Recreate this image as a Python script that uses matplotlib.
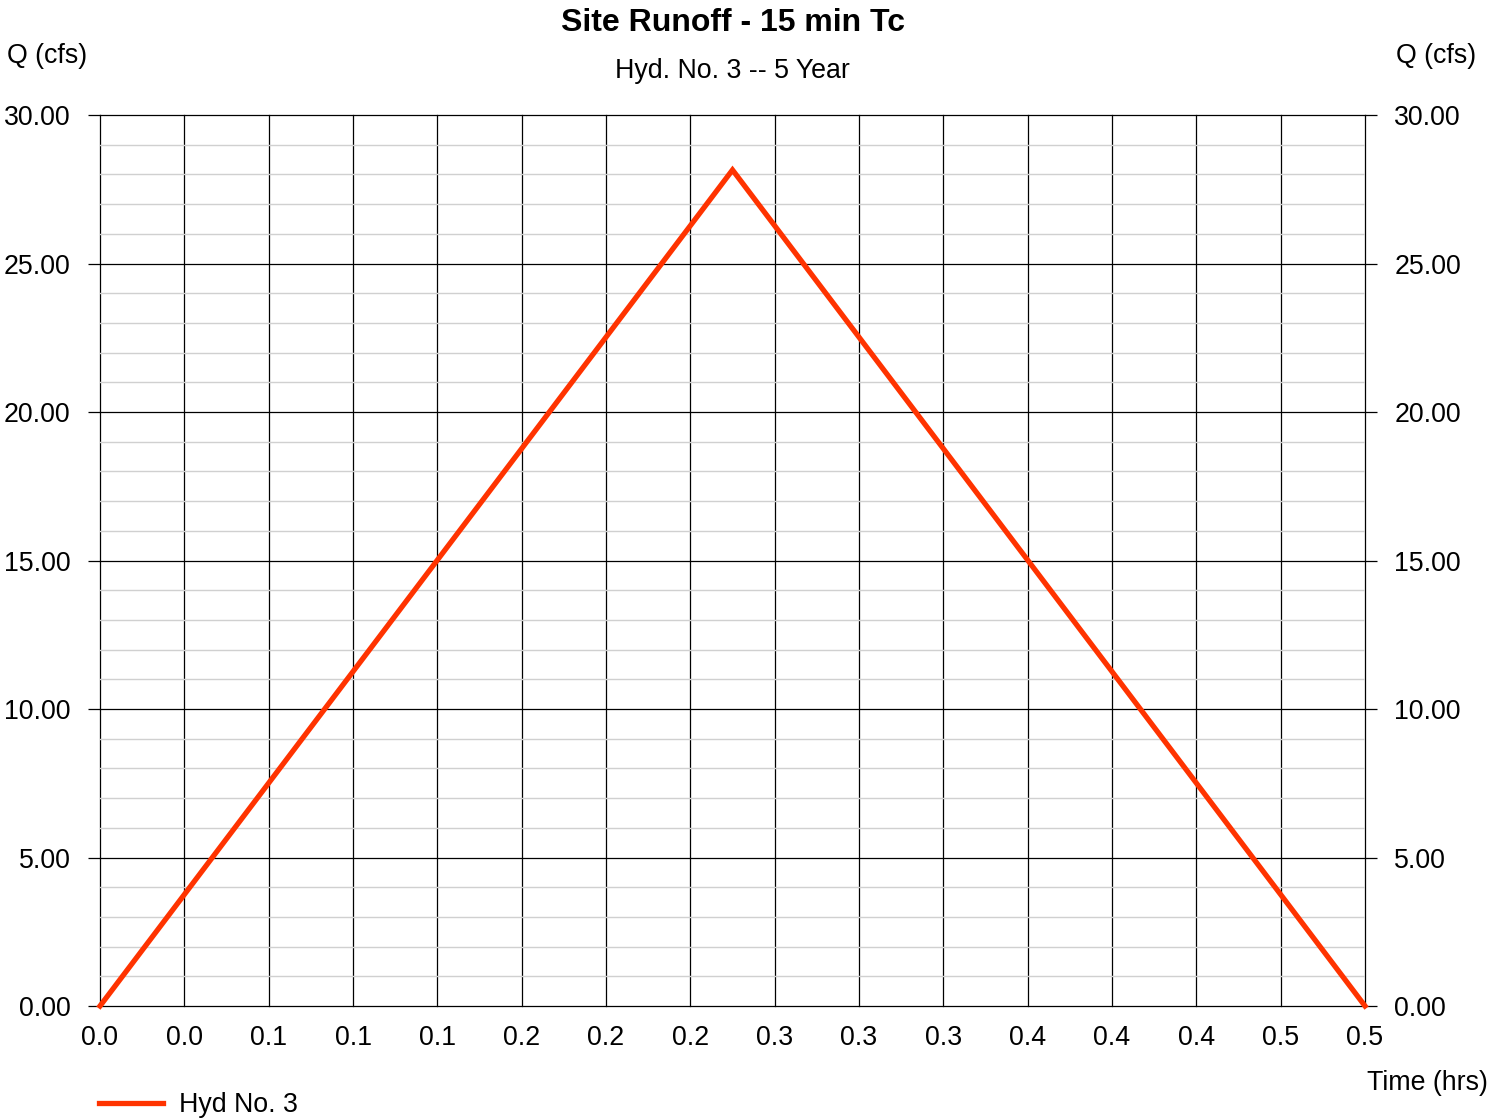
import numpy as np
import matplotlib.pyplot as plt
from matplotlib.ticker import FixedLocator, MultipleLocator

plt.rcParams['font.family'] = ['Liberation Sans', 'DejaVu Sans']

# hydrograph (rational method triangle)
time_hrs = [0.0, 0.25, 0.5]
q_cfs = [0.0, 28.15, 0.0]

# x ticks every 2 min, labels rounded to 1 decimal like the original report
x_ticks = [k * 0.5 / 15 for k in range(16)]
x_labels = ["%.1f" % t for t in x_ticks]
y_ticks = [0, 5, 10, 15, 20, 25, 30]

fs = 19.3

fig = plt.figure(figsize=(15.03, 11.18), dpi=100)
ax = fig.add_axes([100/1503, 1 - 1006/1118, 1265/1503, 891/1118])

ax.set_xlim(0, 0.5)
ax.set_ylim(0, 30)

ax.xaxis.set_major_locator(FixedLocator(x_ticks))
ax.set_xticklabels(x_labels)
ax.yaxis.set_major_locator(FixedLocator(y_ticks))
ax.yaxis.set_minor_locator(MultipleLocator(1))
ax.set_yticklabels(["%.2f" % v for v in y_ticks])

ax.grid(which='minor', axis='y', color='#d0d0d0', lw=1.0)
ax.grid(which='major', axis='both', color='black', lw=0.9)
ax.set_axisbelow(True)
for gl in ax.get_xgridlines() + ax.get_ygridlines():
    gl.set_clip_on(False)

for s in ax.spines.values():
    s.set_visible(False)

ax.tick_params(axis='y', which='major', length=8.6, width=0.9, labelsize=fs,
               left=True, right=True, labelleft=True, labelright=True, pad=12.5)
ax.tick_params(axis='y', which='minor', length=0)
ax.tick_params(axis='x', length=0, labelsize=fs, pad=14)

ax.plot(time_hrs, q_cfs, color='#ff3300', lw=3.8, solid_joinstyle='miter',
        label='Hyd No. 3', zorder=3, clip_on=False)

fig.text(0.4875, 1 - 23/1118, 'Site Runoff - 15 min Tc', ha='center', va='center',
         fontsize=23, fontweight='bold')
fig.text(0.4875, 1 - 71/1118, 'Hyd. No. 3 -- 5 Year', ha='center', va='center', fontsize=fs)
fig.text(7/1503, 1 - 56/1118, 'Q (cfs)', ha='left', va='center', fontsize=fs)
fig.text(1476/1503, 1 - 56/1118, 'Q (cfs)', ha='right', va='center', fontsize=fs)
fig.text(1488/1503, 1 - 1083/1118, 'Time (hrs)', ha='right', va='center', fontsize=fs)

fig.legend(loc='center left', bbox_to_anchor=(88/1503, 1 - 1105/1118), frameon=False,
           fontsize=fs, handlelength=2.4, handletextpad=0.6, borderaxespad=0)

fig.savefig('out.png', dpi=100)
